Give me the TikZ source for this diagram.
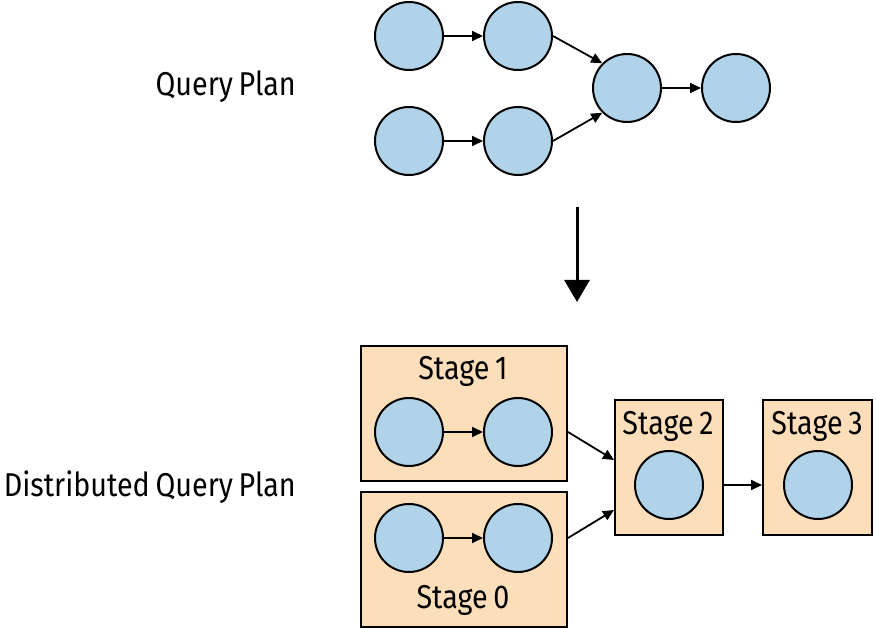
\documentclass[tikz,border=0pt]{standalone}
\usepackage{fontspec}
\setmainfont{Fira Sans}[FakeStretch=0.87,WordSpace=0.75]
\usetikzlibrary{arrows.meta,calc}
\definecolor{nodeblue}{HTML}{B1D3EA}
\definecolor{stagepeach}{HTML}{FDDEBB}
\tikzset{
  op/.style={circle,draw=black,line width=2pt,fill=nodeblue,minimum size=68pt,inner sep=0pt},
  stagebox/.style={rectangle,draw=black,line width=2pt,fill=stagepeach,inner sep=0pt},
  lbl/.style={font=\fontsize{33}{33}\selectfont,inner sep=0pt},
  flow/.style={line width=1.8pt,-{Triangle[length=11pt,width=10pt]}},
}
\begin{document}
\begin{tikzpicture}[x=1pt,y=-1pt]
\useasboundingbox (0,0) rectangle (876,628);
% top query plan
\node[lbl,anchor=base east] (qlabel) at (296,96) {Query Plan};
\node[op] (q1) at (409,36) {};
\node[op] (q2) at (518,36) {};
\node[op] (q3) at (627,88) {};
\node[op] (q4) at (736,88) {};
\node[op] (q5) at (409,141) {};
\node[op] (q6) at (518,141) {};
\draw[flow] (q1.east) -- (q2.west);
\draw[flow] (q5.east) -- (q6.west);
\draw[flow] (q2.east) -- (q3.135);
\draw[flow] (q6.east) -- (q3.225);
\draw[flow] (q3.east) -- (q4.west);
% big arrow
\coordinate (bigtop) at (577,207);
\coordinate (bigbot) at (577,302);
\draw[line width=3pt,-{Triangle[length=22pt,width=25pt]}] (bigtop) -- (bigbot);
% distributed plan
\node[lbl,anchor=base east] (dlabel) at (296,496) {Distributed Query Plan};
\node[stagebox,minimum width=206pt,minimum height=135pt] (s1) at (464,413.5) {};
\node[stagebox,minimum width=206pt,minimum height=135pt] (s0) at (464,559.5) {};
\node[stagebox,minimum width=108pt,minimum height=135pt] (s2) at (669,467.5) {};
\node[stagebox,minimum width=109pt,minimum height=135pt] (s3) at (817.5,467.5) {};
\node[lbl,anchor=base] (s1t) at (463,380) {Stage 1};
\node[lbl,anchor=base] (s0t) at (463,608) {Stage 0};
\node[lbl,anchor=base] (s2t) at (668,434) {Stage 2};
\node[lbl,anchor=base] (s3t) at (817,434) {Stage 3};
\node[op] (a1) at (409,432) {};
\node[op] (a2) at (518,432) {};
\node[op] (b1) at (409,538) {};
\node[op] (b2) at (518,538) {};
\node[op] (c1) at (669,485) {};
\node[op] (d1) at (818,485) {};
\draw[flow] (a1.east) -- (a2.west);
\draw[flow] (b1.east) -- (b2.west);
\draw[flow] (s1.east |- a2) -- ($(s2.west)+(0,-7.5)$);
\draw[flow] (s0.east |- b2) -- ($(s2.west)+(0,42.5)$);
\draw[flow] (s2.east |- c1) -- (s3.west |- d1);
\end{tikzpicture}
\end{document}
